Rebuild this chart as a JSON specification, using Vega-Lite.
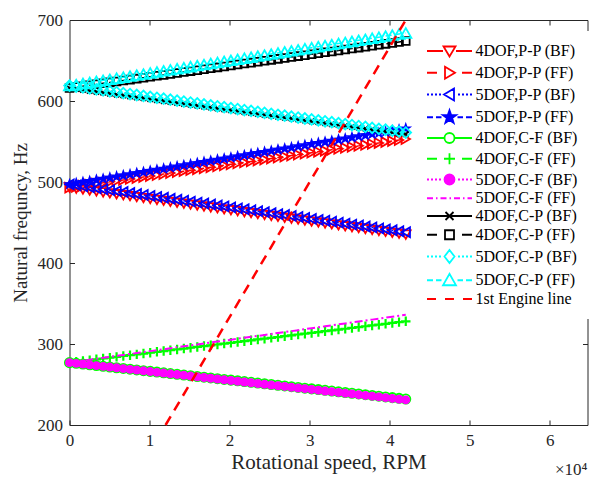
{
"$schema":"https://vega.github.io/schema/vega-lite/v6.json",
"width":518,"height":405,
"autosize":{"type":"none"},
"padding":{"left":69.5,"top":20,"right":1.5,"bottom":56},
"config":{
 "font":"Liberation Serif",
 "view":{"stroke":null},
 "axis":{"grid":false,"domainColor":"#262626","tickColor":"#262626","labelColor":"#262626","titleColor":"#262626","labelFont":"Liberation Serif","titleFont":"Liberation Serif","labelFontSize":17,"titleFontSize":21,"titleFontWeight":"normal","tickSize":-5,"domainWidth":1,"tickWidth":1},
 "legend":{"orient":"none","legendX":345,"legendY":11,"padding":12,"fillColor":"white","labelFont":"Liberation Serif","labelFontSize":16,"labelColor":"#000000","symbolSize":100,"symbolStrokeWidth":1.8,"symbolOffset":15,"labelOffset":18,"rowPadding":1.75,"labelLimit":300}
},
"title":{"text":"×10⁴","orient":"bottom","anchor":"end","frame":"group","offset":-10,"font":"Liberation Serif","fontSize":17,"fontWeight":"normal","color":"#262626"},
"datasets":{
"s1":[{"x":0,"y":493},{"x":840,"y":491.8},{"x":1680,"y":490.7},{"x":2520,"y":489.5},{"x":3360,"y":488.4},{"x":4200,"y":487.2},{"x":5040,"y":486},{"x":5880,"y":484.9},{"x":6720,"y":483.7},{"x":7560,"y":482.6},{"x":8400,"y":481.4},{"x":9240,"y":480.2},{"x":10080,"y":479.1},{"x":10920,"y":477.9},{"x":11760,"y":476.8},{"x":12600,"y":475.6},{"x":13440,"y":474.4},{"x":14280,"y":473.3},{"x":15120,"y":472.1},{"x":15960,"y":471},{"x":16800,"y":469.8},{"x":17640,"y":468.6},{"x":18480,"y":467.5},{"x":19320,"y":466.3},{"x":20160,"y":465.2},{"x":21000,"y":464},{"x":21840,"y":462.8},{"x":22680,"y":461.7},{"x":23520,"y":460.5},{"x":24360,"y":459.4},{"x":25200,"y":458.2},{"x":26040,"y":457},{"x":26880,"y":455.9},{"x":27720,"y":454.7},{"x":28560,"y":453.6},{"x":29400,"y":452.4},{"x":30240,"y":451.2},{"x":31080,"y":450.1},{"x":31920,"y":448.9},{"x":32760,"y":447.8},{"x":33600,"y":446.6},{"x":34440,"y":445.4},{"x":35280,"y":444.3},{"x":36120,"y":443.1},{"x":36960,"y":442},{"x":37800,"y":440.8},{"x":38640,"y":439.6},{"x":39480,"y":438.5},{"x":40320,"y":437.3},{"x":41160,"y":436.2},{"x":42000,"y":435}],
"s2":[{"x":0,"y":493},{"x":840,"y":494.2},{"x":1680,"y":495.4},{"x":2520,"y":496.6},{"x":3360,"y":497.8},{"x":4200,"y":499},{"x":5040,"y":500.2},{"x":5880,"y":501.4},{"x":6720,"y":502.6},{"x":7560,"y":503.8},{"x":8400,"y":505},{"x":9240,"y":506.2},{"x":10080,"y":507.4},{"x":10920,"y":508.6},{"x":11760,"y":509.8},{"x":12600,"y":511},{"x":13440,"y":512.2},{"x":14280,"y":513.4},{"x":15120,"y":514.6},{"x":15960,"y":515.8},{"x":16800,"y":517},{"x":17640,"y":518.2},{"x":18480,"y":519.4},{"x":19320,"y":520.6},{"x":20160,"y":521.8},{"x":21000,"y":523},{"x":21840,"y":524.2},{"x":22680,"y":525.4},{"x":23520,"y":526.6},{"x":24360,"y":527.8},{"x":25200,"y":529},{"x":26040,"y":530.2},{"x":26880,"y":531.4},{"x":27720,"y":532.6},{"x":28560,"y":533.8},{"x":29400,"y":535},{"x":30240,"y":536.2},{"x":31080,"y":537.4},{"x":31920,"y":538.6},{"x":32760,"y":539.8},{"x":33600,"y":541},{"x":34440,"y":542.2},{"x":35280,"y":543.4},{"x":36120,"y":544.6},{"x":36960,"y":545.8},{"x":37800,"y":547},{"x":38640,"y":548.2},{"x":39480,"y":549.4},{"x":40320,"y":550.6},{"x":41160,"y":551.8},{"x":42000,"y":553}],
"s3":[{"x":0,"y":497},{"x":840,"y":495.8},{"x":1680,"y":494.6},{"x":2520,"y":493.5},{"x":3360,"y":492.3},{"x":4200,"y":491.1},{"x":5040,"y":489.9},{"x":5880,"y":488.7},{"x":6720,"y":487.6},{"x":7560,"y":486.4},{"x":8400,"y":485.2},{"x":9240,"y":484},{"x":10080,"y":482.8},{"x":10920,"y":481.7},{"x":11760,"y":480.5},{"x":12600,"y":479.3},{"x":13440,"y":478.1},{"x":14280,"y":476.9},{"x":15120,"y":475.8},{"x":15960,"y":474.6},{"x":16800,"y":473.4},{"x":17640,"y":472.2},{"x":18480,"y":471},{"x":19320,"y":469.9},{"x":20160,"y":468.7},{"x":21000,"y":467.5},{"x":21840,"y":466.3},{"x":22680,"y":465.1},{"x":23520,"y":464},{"x":24360,"y":462.8},{"x":25200,"y":461.6},{"x":26040,"y":460.4},{"x":26880,"y":459.2},{"x":27720,"y":458.1},{"x":28560,"y":456.9},{"x":29400,"y":455.7},{"x":30240,"y":454.5},{"x":31080,"y":453.3},{"x":31920,"y":452.2},{"x":32760,"y":451},{"x":33600,"y":449.8},{"x":34440,"y":448.6},{"x":35280,"y":447.4},{"x":36120,"y":446.3},{"x":36960,"y":445.1},{"x":37800,"y":443.9},{"x":38640,"y":442.7},{"x":39480,"y":441.5},{"x":40320,"y":440.4},{"x":41160,"y":439.2},{"x":42000,"y":438}],
"s4":[{"x":0,"y":497},{"x":840,"y":498.4},{"x":1680,"y":499.8},{"x":2520,"y":501.1},{"x":3360,"y":502.5},{"x":4200,"y":503.9},{"x":5040,"y":505.3},{"x":5880,"y":506.7},{"x":6720,"y":508},{"x":7560,"y":509.4},{"x":8400,"y":510.8},{"x":9240,"y":512.2},{"x":10080,"y":513.6},{"x":10920,"y":514.9},{"x":11760,"y":516.3},{"x":12600,"y":517.7},{"x":13440,"y":519.1},{"x":14280,"y":520.5},{"x":15120,"y":521.8},{"x":15960,"y":523.2},{"x":16800,"y":524.6},{"x":17640,"y":526},{"x":18480,"y":527.4},{"x":19320,"y":528.7},{"x":20160,"y":530.1},{"x":21000,"y":531.5},{"x":21840,"y":532.9},{"x":22680,"y":534.3},{"x":23520,"y":535.6},{"x":24360,"y":537},{"x":25200,"y":538.4},{"x":26040,"y":539.8},{"x":26880,"y":541.2},{"x":27720,"y":542.5},{"x":28560,"y":543.9},{"x":29400,"y":545.3},{"x":30240,"y":546.7},{"x":31080,"y":548.1},{"x":31920,"y":549.4},{"x":32760,"y":550.8},{"x":33600,"y":552.2},{"x":34440,"y":553.6},{"x":35280,"y":555},{"x":36120,"y":556.3},{"x":36960,"y":557.7},{"x":37800,"y":559.1},{"x":38640,"y":560.5},{"x":39480,"y":561.9},{"x":40320,"y":563.2},{"x":41160,"y":564.6},{"x":42000,"y":566}],
"s5":[{"x":0,"y":277},{"x":840,"y":276.1},{"x":1680,"y":275.2},{"x":2520,"y":274.3},{"x":3360,"y":273.4},{"x":4200,"y":272.5},{"x":5040,"y":271.6},{"x":5880,"y":270.7},{"x":6720,"y":269.8},{"x":7560,"y":268.9},{"x":8400,"y":268},{"x":9240,"y":267.1},{"x":10080,"y":266.2},{"x":10920,"y":265.3},{"x":11760,"y":264.4},{"x":12600,"y":263.5},{"x":13440,"y":262.6},{"x":14280,"y":261.7},{"x":15120,"y":260.8},{"x":15960,"y":259.9},{"x":16800,"y":259},{"x":17640,"y":258.1},{"x":18480,"y":257.2},{"x":19320,"y":256.3},{"x":20160,"y":255.4},{"x":21000,"y":254.5},{"x":21840,"y":253.6},{"x":22680,"y":252.7},{"x":23520,"y":251.8},{"x":24360,"y":250.9},{"x":25200,"y":250},{"x":26040,"y":249.1},{"x":26880,"y":248.2},{"x":27720,"y":247.3},{"x":28560,"y":246.4},{"x":29400,"y":245.5},{"x":30240,"y":244.6},{"x":31080,"y":243.7},{"x":31920,"y":242.8},{"x":32760,"y":241.9},{"x":33600,"y":241},{"x":34440,"y":240.1},{"x":35280,"y":239.2},{"x":36120,"y":238.3},{"x":36960,"y":237.4},{"x":37800,"y":236.5},{"x":38640,"y":235.6},{"x":39480,"y":234.7},{"x":40320,"y":233.8},{"x":41160,"y":232.9},{"x":42000,"y":232}],
"s6":[{"x":0,"y":277},{"x":840,"y":278},{"x":1680,"y":279},{"x":2520,"y":280.1},{"x":3360,"y":281.1},{"x":4200,"y":282.1},{"x":5040,"y":283.1},{"x":5880,"y":284.1},{"x":6720,"y":285.2},{"x":7560,"y":286.2},{"x":8400,"y":287.2},{"x":9240,"y":288.2},{"x":10080,"y":289.2},{"x":10920,"y":290.3},{"x":11760,"y":291.3},{"x":12600,"y":292.3},{"x":13440,"y":293.3},{"x":14280,"y":294.3},{"x":15120,"y":295.4},{"x":15960,"y":296.4},{"x":16800,"y":297.4},{"x":17640,"y":298.4},{"x":18480,"y":299.4},{"x":19320,"y":300.5},{"x":20160,"y":301.5},{"x":21000,"y":302.5},{"x":21840,"y":303.5},{"x":22680,"y":304.5},{"x":23520,"y":305.6},{"x":24360,"y":306.6},{"x":25200,"y":307.6},{"x":26040,"y":308.6},{"x":26880,"y":309.6},{"x":27720,"y":310.7},{"x":28560,"y":311.7},{"x":29400,"y":312.7},{"x":30240,"y":313.7},{"x":31080,"y":314.7},{"x":31920,"y":315.8},{"x":32760,"y":316.8},{"x":33600,"y":317.8},{"x":34440,"y":318.8},{"x":35280,"y":319.8},{"x":36120,"y":320.9},{"x":36960,"y":321.9},{"x":37800,"y":322.9},{"x":38640,"y":323.9},{"x":39480,"y":324.9},{"x":40320,"y":326},{"x":41160,"y":327},{"x":42000,"y":328}],
"s7":[{"x":0,"y":277},{"x":840,"y":276.1},{"x":1680,"y":275.2},{"x":2520,"y":274.2},{"x":3360,"y":273.3},{"x":4200,"y":272.4},{"x":5040,"y":271.5},{"x":5880,"y":270.6},{"x":6720,"y":269.6},{"x":7560,"y":268.7},{"x":8400,"y":267.8},{"x":9240,"y":266.9},{"x":10080,"y":266},{"x":10920,"y":265},{"x":11760,"y":264.1},{"x":12600,"y":263.2},{"x":13440,"y":262.3},{"x":14280,"y":261.4},{"x":15120,"y":260.4},{"x":15960,"y":259.5},{"x":16800,"y":258.6},{"x":17640,"y":257.7},{"x":18480,"y":256.8},{"x":19320,"y":255.8},{"x":20160,"y":254.9},{"x":21000,"y":254},{"x":21840,"y":253.1},{"x":22680,"y":252.2},{"x":23520,"y":251.2},{"x":24360,"y":250.3},{"x":25200,"y":249.4},{"x":26040,"y":248.5},{"x":26880,"y":247.6},{"x":27720,"y":246.6},{"x":28560,"y":245.7},{"x":29400,"y":244.8},{"x":30240,"y":243.9},{"x":31080,"y":243},{"x":31920,"y":242},{"x":32760,"y":241.1},{"x":33600,"y":240.2},{"x":34440,"y":239.3},{"x":35280,"y":238.4},{"x":36120,"y":237.4},{"x":36960,"y":236.5},{"x":37800,"y":235.6},{"x":38640,"y":234.7},{"x":39480,"y":233.8},{"x":40320,"y":232.8},{"x":41160,"y":231.9},{"x":42000,"y":231}],
"s8":[{"x":0,"y":277},{"x":840,"y":278.2},{"x":1680,"y":279.4},{"x":2520,"y":280.5},{"x":3360,"y":281.7},{"x":4200,"y":282.9},{"x":5040,"y":284.1},{"x":5880,"y":285.3},{"x":6720,"y":286.4},{"x":7560,"y":287.6},{"x":8400,"y":288.8},{"x":9240,"y":290},{"x":10080,"y":291.2},{"x":10920,"y":292.3},{"x":11760,"y":293.5},{"x":12600,"y":294.7},{"x":13440,"y":295.9},{"x":14280,"y":297.1},{"x":15120,"y":298.2},{"x":15960,"y":299.4},{"x":16800,"y":300.6},{"x":17640,"y":301.8},{"x":18480,"y":303},{"x":19320,"y":304.1},{"x":20160,"y":305.3},{"x":21000,"y":306.5},{"x":21840,"y":307.7},{"x":22680,"y":308.9},{"x":23520,"y":310},{"x":24360,"y":311.2},{"x":25200,"y":312.4},{"x":26040,"y":313.6},{"x":26880,"y":314.8},{"x":27720,"y":315.9},{"x":28560,"y":317.1},{"x":29400,"y":318.3},{"x":30240,"y":319.5},{"x":31080,"y":320.7},{"x":31920,"y":321.8},{"x":32760,"y":323},{"x":33600,"y":324.2},{"x":34440,"y":325.4},{"x":35280,"y":326.6},{"x":36120,"y":327.7},{"x":36960,"y":328.9},{"x":37800,"y":330.1},{"x":38640,"y":331.3},{"x":39480,"y":332.5},{"x":40320,"y":333.6},{"x":41160,"y":334.8},{"x":42000,"y":336}],
"s9":[{"x":0,"y":616},{"x":840,"y":614.9},{"x":1680,"y":613.7},{"x":2520,"y":612.6},{"x":3360,"y":611.4},{"x":4200,"y":610.3},{"x":5040,"y":609.2},{"x":5880,"y":608},{"x":6720,"y":606.9},{"x":7560,"y":605.7},{"x":8400,"y":604.6},{"x":9240,"y":603.5},{"x":10080,"y":602.3},{"x":10920,"y":601.2},{"x":11760,"y":600},{"x":12600,"y":598.9},{"x":13440,"y":597.8},{"x":14280,"y":596.6},{"x":15120,"y":595.5},{"x":15960,"y":594.3},{"x":16800,"y":593.2},{"x":17640,"y":592.1},{"x":18480,"y":590.9},{"x":19320,"y":589.8},{"x":20160,"y":588.6},{"x":21000,"y":587.5},{"x":21840,"y":586.4},{"x":22680,"y":585.2},{"x":23520,"y":584.1},{"x":24360,"y":582.9},{"x":25200,"y":581.8},{"x":26040,"y":580.7},{"x":26880,"y":579.5},{"x":27720,"y":578.4},{"x":28560,"y":577.2},{"x":29400,"y":576.1},{"x":30240,"y":575},{"x":31080,"y":573.8},{"x":31920,"y":572.7},{"x":32760,"y":571.5},{"x":33600,"y":570.4},{"x":34440,"y":569.3},{"x":35280,"y":568.1},{"x":36120,"y":567},{"x":36960,"y":565.8},{"x":37800,"y":564.7},{"x":38640,"y":563.6},{"x":39480,"y":562.4},{"x":40320,"y":561.3},{"x":41160,"y":560.1},{"x":42000,"y":559}],
"s10":[{"x":0,"y":616},{"x":840,"y":617.2},{"x":1680,"y":618.3},{"x":2520,"y":619.5},{"x":3360,"y":620.6},{"x":4200,"y":621.8},{"x":5040,"y":623},{"x":5880,"y":624.1},{"x":6720,"y":625.3},{"x":7560,"y":626.4},{"x":8400,"y":627.6},{"x":9240,"y":628.8},{"x":10080,"y":629.9},{"x":10920,"y":631.1},{"x":11760,"y":632.2},{"x":12600,"y":633.4},{"x":13440,"y":634.6},{"x":14280,"y":635.7},{"x":15120,"y":636.9},{"x":15960,"y":638},{"x":16800,"y":639.2},{"x":17640,"y":640.4},{"x":18480,"y":641.5},{"x":19320,"y":642.7},{"x":20160,"y":643.8},{"x":21000,"y":645},{"x":21840,"y":646.2},{"x":22680,"y":647.3},{"x":23520,"y":648.5},{"x":24360,"y":649.6},{"x":25200,"y":650.8},{"x":26040,"y":652},{"x":26880,"y":653.1},{"x":27720,"y":654.3},{"x":28560,"y":655.4},{"x":29400,"y":656.6},{"x":30240,"y":657.8},{"x":31080,"y":658.9},{"x":31920,"y":660.1},{"x":32760,"y":661.2},{"x":33600,"y":662.4},{"x":34440,"y":663.6},{"x":35280,"y":664.7},{"x":36120,"y":665.9},{"x":36960,"y":667},{"x":37800,"y":668.2},{"x":38640,"y":669.4},{"x":39480,"y":670.5},{"x":40320,"y":671.7},{"x":41160,"y":672.8},{"x":42000,"y":674}],
"s11":[{"x":0,"y":619},{"x":840,"y":617.8},{"x":1680,"y":616.7},{"x":2520,"y":615.5},{"x":3360,"y":614.4},{"x":4200,"y":613.2},{"x":5040,"y":612},{"x":5880,"y":610.9},{"x":6720,"y":609.7},{"x":7560,"y":608.6},{"x":8400,"y":607.4},{"x":9240,"y":606.2},{"x":10080,"y":605.1},{"x":10920,"y":603.9},{"x":11760,"y":602.8},{"x":12600,"y":601.6},{"x":13440,"y":600.4},{"x":14280,"y":599.3},{"x":15120,"y":598.1},{"x":15960,"y":597},{"x":16800,"y":595.8},{"x":17640,"y":594.6},{"x":18480,"y":593.5},{"x":19320,"y":592.3},{"x":20160,"y":591.2},{"x":21000,"y":590},{"x":21840,"y":588.8},{"x":22680,"y":587.7},{"x":23520,"y":586.5},{"x":24360,"y":585.4},{"x":25200,"y":584.2},{"x":26040,"y":583},{"x":26880,"y":581.9},{"x":27720,"y":580.7},{"x":28560,"y":579.6},{"x":29400,"y":578.4},{"x":30240,"y":577.2},{"x":31080,"y":576.1},{"x":31920,"y":574.9},{"x":32760,"y":573.8},{"x":33600,"y":572.6},{"x":34440,"y":571.4},{"x":35280,"y":570.3},{"x":36120,"y":569.1},{"x":36960,"y":568},{"x":37800,"y":566.8},{"x":38640,"y":565.6},{"x":39480,"y":564.5},{"x":40320,"y":563.3},{"x":41160,"y":562.2},{"x":42000,"y":561}],
"s12":[{"x":0,"y":619},{"x":840,"y":620.3},{"x":1680,"y":621.6},{"x":2520,"y":622.9},{"x":3360,"y":624.2},{"x":4200,"y":625.5},{"x":5040,"y":626.8},{"x":5880,"y":628.1},{"x":6720,"y":629.4},{"x":7560,"y":630.7},{"x":8400,"y":632},{"x":9240,"y":633.3},{"x":10080,"y":634.6},{"x":10920,"y":635.9},{"x":11760,"y":637.2},{"x":12600,"y":638.5},{"x":13440,"y":639.8},{"x":14280,"y":641.1},{"x":15120,"y":642.4},{"x":15960,"y":643.7},{"x":16800,"y":645},{"x":17640,"y":646.3},{"x":18480,"y":647.6},{"x":19320,"y":648.9},{"x":20160,"y":650.2},{"x":21000,"y":651.5},{"x":21840,"y":652.8},{"x":22680,"y":654.1},{"x":23520,"y":655.4},{"x":24360,"y":656.7},{"x":25200,"y":658},{"x":26040,"y":659.3},{"x":26880,"y":660.6},{"x":27720,"y":661.9},{"x":28560,"y":663.2},{"x":29400,"y":664.5},{"x":30240,"y":665.8},{"x":31080,"y":667.1},{"x":31920,"y":668.4},{"x":32760,"y":669.7},{"x":33600,"y":671},{"x":34440,"y":672.3},{"x":35280,"y":673.6},{"x":36120,"y":674.9},{"x":36960,"y":676.2},{"x":37800,"y":677.5},{"x":38640,"y":678.8},{"x":39480,"y":680.1},{"x":40320,"y":681.4},{"x":41160,"y":682.7},{"x":42000,"y":684}],
"engine":[{"x":12000,"y":200},{"x":42000,"y":700}],
"names":[{"s":"4DOF,P-P (BF)"},{"s":"4DOF,P-P (FF)"},{"s":"5DOF,P-P (BF)"},{"s":"5DOF,P-P (FF)"},{"s":"4DOF,C-F (BF)"},{"s":"4DOF,C-F (FF)"},{"s":"5DOF,C-F (BF)"},{"s":"5DOF,C-F (FF)"},{"s":"4DOF,C-P (BF)"},{"s":"4DOF,C-P (FF)"},{"s":"5DOF,C-P (BF)"},{"s":"5DOF,C-P (FF)"},{"s":"1st Engine line"}]
},
"layer":[
{
 "encoding":{
  "x":{"field":"x","type":"quantitative","scale":{"domain":[0,64700],"nice":false,"zero":false},"axis":{"orient":"bottom","values":[0,10000,20000,30000,40000,50000,60000],"labelExpr":"datum.value/10000","labelPadding":12,"title":"Rotational speed, RPM","titlePadding":3,"labelFlush":false}},
  "y":{"field":"y","type":"quantitative","scale":{"domain":[200,700],"nice":false,"zero":false},"axis":{"orient":"left","values":[200,300,400,500,600,700],"labelPadding":12,"title":"Natural frequncy, Hz","titleFontSize":19,"titlePadding":7}}
 },
 "layer":[
  {"data":{"name":"s1"},"layer":[{"mark":{"type":"line","color":"#FF0000","strokeWidth":1.5},"encoding":{}},{"mark":{"type":"point","shape":"triangle-down","color":"#FF0000","size":95,"strokeWidth":1.8,"opacity":1}}]},
  {"data":{"name":"s2"},"layer":[{"mark":{"type":"line","color":"#FF0000","strokeWidth":1.5,"strokeDash":[6,4]},"encoding":{}},{"mark":{"type":"point","shape":"triangle-right","color":"#FF0000","size":95,"strokeWidth":1.8,"opacity":1}}]},
  {"data":{"name":"s3"},"layer":[{"mark":{"type":"line","color":"#0000FF","strokeWidth":1.5,"strokeDash":[2,3]},"encoding":{}},{"mark":{"type":"point","shape":"triangle-left","color":"#0000FF","size":95,"strokeWidth":1.8,"opacity":1}}]},
  {"data":{"name":"s4"},"layer":[{"mark":{"type":"line","color":"#0000FF","strokeWidth":1.5,"strokeDash":[6,4]},"encoding":{}},{"mark":{"type":"point","shape":"M0,-1L0.24,-0.32L0.95,-0.31L0.38,0.12L0.59,0.81L0,0.4L-0.59,0.81L-0.38,0.12L-0.95,-0.31L-0.24,-0.32Z","color":"#0000FF","filled":true,"size":180,"strokeWidth":1,"opacity":1}}]},
  {"data":{"name":"s5"},"layer":[{"mark":{"type":"line","color":"#00FF00","strokeWidth":1.5},"encoding":{}},{"mark":{"type":"point","shape":"circle","color":"#00FF00","size":85,"strokeWidth":1.8,"opacity":1}}]},
  {"data":{"name":"s6"},"layer":[{"mark":{"type":"line","color":"#00FF00","strokeWidth":1.5,"strokeDash":[6,4]},"encoding":{}},{"mark":{"type":"point","shape":"M-1,0H1M0,-1V1","color":"#00FF00","size":90,"strokeWidth":2.2,"opacity":1}}]},
  {"data":{"name":"s7"},"layer":[{"mark":{"type":"line","color":"#FF00FF","strokeWidth":1.5,"strokeDash":[2,3]},"encoding":{}},{"mark":{"type":"point","shape":"circle","color":"#FF00FF","filled":true,"size":80,"opacity":1}}]},
  {"data":{"name":"s8"},"mark":{"type":"line","color":"#FF00FF","strokeWidth":2,"strokeDash":[8,3,2,3]},"encoding":{}},
  {"data":{"name":"s9"},"layer":[{"mark":{"type":"line","color":"#000000","strokeWidth":1.5},"encoding":{}},{"mark":{"type":"point","shape":"M-1,-1L1,1M-1,1L1,-1","color":"#000000","size":30,"strokeWidth":1.8,"opacity":1}}]},
  {"data":{"name":"s10"},"layer":[{"mark":{"type":"line","color":"#000000","strokeWidth":1.5,"strokeDash":[6,4]},"encoding":{}},{"mark":{"type":"point","shape":"square","color":"#000000","size":60,"strokeWidth":1.8,"opacity":1}}]},
  {"data":{"name":"s11"},"layer":[{"mark":{"type":"line","color":"#00FFFF","strokeWidth":1.5,"strokeDash":[2,3]},"encoding":{}},{"mark":{"type":"point","shape":"diamond","color":"#00FFFF","size":115,"strokeWidth":1.8,"opacity":1}}]},
  {"data":{"name":"s12"},"layer":[{"mark":{"type":"line","color":"#00FFFF","strokeWidth":1.5,"strokeDash":[6,4]},"encoding":{}},{"mark":{"type":"point","shape":"triangle-up","color":"#00FFFF","size":125,"strokeWidth":1.8,"opacity":1}}]}
 ]
},
{
 "data":{"name":"engine"},
 "mark":{"type":"line","color":"#FF0000","strokeWidth":2.5,"strokeDash":[10,7]},
 "encoding":{
  "x":{"field":"x","type":"quantitative","scale":{"domain":[0,64700],"nice":false,"zero":false},"axis":{"orient":"top","labels":false,"title":null,"values":[10000,20000,30000,40000,50000,60000]}},
  "y":{"field":"y","type":"quantitative","scale":{"domain":[200,700],"nice":false,"zero":false},"axis":{"orient":"right","labels":false,"title":null,"values":[300,400,500,600]}}
 }
},
{
 "data":{"name":"names"},
 "transform":[{"filter":"false"}],
 "mark":{"type":"point","strokeWidth":1.8,"opacity":1},
 "encoding":{
  "shape":{"field":"s","type":"nominal","legend":{"title":null},"scale":{"domain":["4DOF,P-P (BF)","4DOF,P-P (FF)","5DOF,P-P (BF)","5DOF,P-P (FF)","4DOF,C-F (BF)","4DOF,C-F (FF)","5DOF,C-F (BF)","5DOF,C-F (FF)","4DOF,C-P (BF)","4DOF,C-P (FF)","5DOF,C-P (BF)","5DOF,C-P (FF)","1st Engine line"],"range":[
   "M-4.5,0H-1.3M1.3,0H4.5M-1.2,-0.9L1.2,-0.9L0,1.1Z",
   "M-4.5,0H-2.5M2.5,0H4.5M-0.9,-1.2L1.1,0L-0.9,1.2Z",
   "M-4.5,0H-4.1M-3.7,0H-3.3M-2.9,0H-2.5M-2.1,0H-1.7M1.7,0H2.1M2.5,0H2.9M3.3,0H3.7M4.1,0H4.5M0.9,-1.2L-1.1,0L0.9,1.2Z",
   "M-4.5,0H-3.3M-2.7,0H-1.6M1.6,0H2.7M3.3,0H4.5M0,-1.4L0.33,-0.45L1.33,-0.43L0.53,0.17L0.82,1.13L0,0.56L-0.82,1.13L-0.53,0.17L-1.33,-0.43L-0.33,-0.45Z",
   "M-4.5,0H-1M1,0H4.5M1,0A1,1 0 1,1 -1,0A1,1 0 1,1 1,0Z",
   "M-4.5,0H-2.5M2.5,0H4.5M-1.1,0H1.1M0,-1.1V1.1",
   "M-4.5,0H-4.1M-3.7,0H-3.3M-2.9,0H-2.5M-2.1,0H-1.7M1.7,0H2.1M2.5,0H2.9M3.3,0H3.7M4.1,0H4.5M1,0A1,1 0 1,1 -1,0A1,1 0 1,1 1,0Z",
   "M-4.5,0H-3.3M-2.7,0H-2.4M-1.8,0H-0.6M0,0H0.3M0.9,0H2.1M2.7,0H3M3.6,0H4.5",
   "M-4.5,0H4.5M-0.8,-0.8L0.8,0.8M-0.8,0.8L0.8,-0.8",
   "M-4.5,0H-2.5M2.5,0H4.5M-0.9,-0.9H0.9V0.9H-0.9Z",
   "M-4.5,0H-4.1M-3.7,0H-3.3M-2.9,0H-2.5M-2.1,0H-1.7M1.7,0H2.1M2.5,0H2.9M3.3,0H3.7M4.1,0H4.5M0,-1.3L1,0L0,1.3L-1,0Z",
   "M-4.5,0H-3.3M-2.7,0H-1.6M1.6,0H2.7M3.3,0H4.5M-1.3,1L1.3,1L0,-1.3Z",
   "M-4.5,0H-2.7M-0.9,0H0.9M2.7,0H4.5"]}},
  "stroke":{"field":"s","type":"nominal","legend":{"title":null},"scale":{"domain":["4DOF,P-P (BF)","4DOF,P-P (FF)","5DOF,P-P (BF)","5DOF,P-P (FF)","4DOF,C-F (BF)","4DOF,C-F (FF)","5DOF,C-F (BF)","5DOF,C-F (FF)","4DOF,C-P (BF)","4DOF,C-P (FF)","5DOF,C-P (BF)","5DOF,C-P (FF)","1st Engine line"],"range":["#FF0000","#FF0000","#0000FF","#0000FF","#00FF00","#00FF00","#FF00FF","#FF00FF","#000000","#000000","#00FFFF","#00FFFF","#FF0000"]}},
  "fill":{"field":"s","type":"nominal","legend":{"title":null},"scale":{"domain":["4DOF,P-P (BF)","4DOF,P-P (FF)","5DOF,P-P (BF)","5DOF,P-P (FF)","4DOF,C-F (BF)","4DOF,C-F (FF)","5DOF,C-F (BF)","5DOF,C-F (FF)","4DOF,C-P (BF)","4DOF,C-P (FF)","5DOF,C-P (BF)","5DOF,C-P (FF)","1st Engine line"],"range":["transparent","transparent","transparent","#0000FF","transparent","transparent","#FF00FF","transparent","transparent","transparent","transparent","transparent","transparent"]}}
 }
}
]
}
